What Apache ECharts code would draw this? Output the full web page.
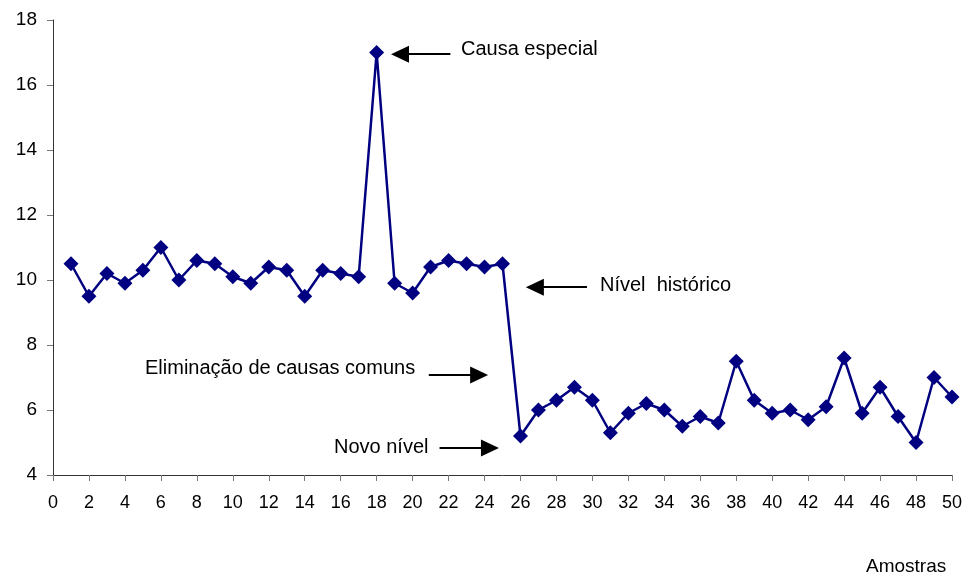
<!DOCTYPE html>
<html>
<head>
<meta charset="utf-8">
<script src="https://cdn.jsdelivr.net/npm/echarts@6/dist/echarts.min.js"></script>
<style>
  html, body { margin: 0; padding: 0; background: #fff; }
  #chart { width: 967px; height: 576px; }
</style>
</head>
<body>
<div id="chart"></div>
<script>
// amostras 1..50
const amostras = Array.from({ length: 50 }, (_, i) => i + 1)
const valores = [
  10.5, 9.5, 10.2, 9.9, 10.3, 11.0, 10.0, 10.6, 10.5, 10.1,
  9.9, 10.4, 10.3, 9.5, 10.3, 10.2, 10.1, 17.0, 9.9, 9.6,
  10.4, 10.6, 10.5, 10.4, 10.5, 5.2, 6.0, 6.3, 6.7, 6.3,
  5.3, 5.9, 6.2, 6.0, 5.5, 5.8, 5.6, 7.5, 6.3, 5.9,
  6.0, 5.7, 6.1, 7.6, 5.9, 6.7, 5.8, 5.0, 7.0, 6.4
]

// setas das anotações (em coordenadas dos dados): [x inicio, x fim, y]
const setas = [
  [22.1, 19.3, 16.95],
  [29.7, 26.8, 9.78],
  [20.9, 23.7, 7.08],
  [21.5, 24.3, 4.83]
]

const fonte = 'Liberation Sans, Arial, sans-serif'
const chart = echarts.init(document.getElementById('chart'))

function rotulo(texto, x, y, tam) {
  return {
    type: 'text', x: x, y: y,
    style: { text: texto, font: tam + 'px ' + fonte, fill: '#000', verticalAlign: 'middle' }
  }
}

const option = {
  animation: false,
  grid: { left: 53, right: 15, top: 20, bottom: 101 },
  xAxis: {
    type: 'value',
    min: 0,
    max: 50,
    interval: 2,
    axisLine: { lineStyle: { color: '#333', width: 1 } },
    axisTick: { show: true, length: 6, lineStyle: { color: '#777' } },
    axisLabel: { color: '#000', fontFamily: fonte, fontSize: 18, margin: 19 },
    splitLine: { show: false }
  },
  yAxis: {
    type: 'value',
    min: 4,
    max: 18,
    interval: 2,
    axisLine: { show: true, lineStyle: { color: '#333', width: 1 } },
    axisTick: { show: true, length: 6, lineStyle: { color: '#777' } },
    axisLabel: { color: '#000', fontFamily: fonte, fontSize: 19, margin: 16 },
    splitLine: { show: false }
  },
  series: [{
    type: 'line',
    data: amostras.map((a, i) => [a, valores[i]]),
    symbol: 'diamond',
    symbolSize: 15,
    itemStyle: { color: '#000080' },
    lineStyle: { color: '#000080', width: 2.5 },
    markLine: {
      silent: true,
      symbol: ['none', 'triangle'],
      symbolSize: [17, 18],
      label: { show: false },
      lineStyle: { color: '#000', width: 2, type: 'solid' },
      data: setas.map(s => [{ coord: [s[0], s[2]] }, { coord: [s[1], s[2]] }])
    }
  }],
  graphic: [
    rotulo('Causa especial', 461, 49, 20),
    rotulo('Nível  histórico', 600, 285, 20),
    rotulo('Eliminação de causas comuns', 145, 368, 20),
    rotulo('Novo nível', 334, 447, 20),
    rotulo('Amostras', 866, 567, 19)
  ]
}
chart.setOption(option)
</script>
</body>
</html>
